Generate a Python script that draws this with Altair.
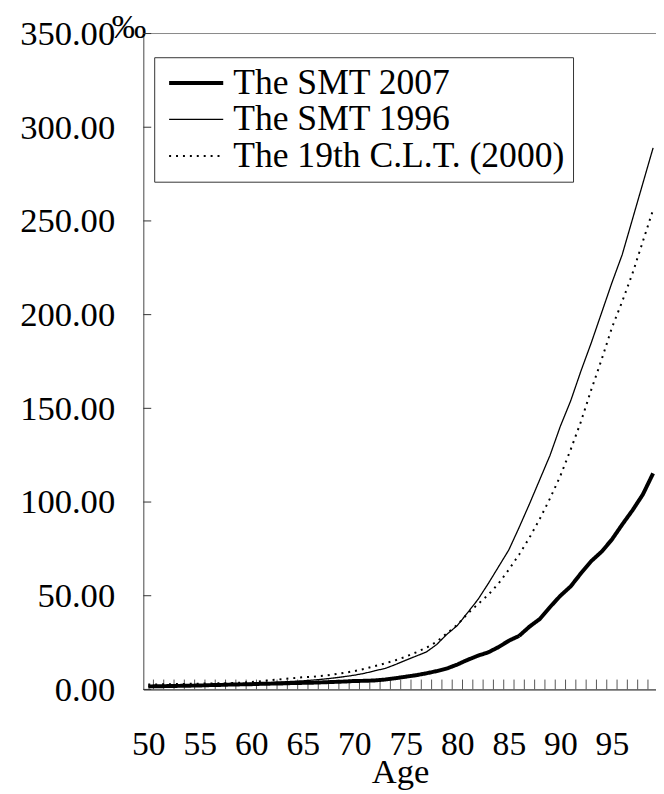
import altair as alt
import pandas as pd

ages = list(range(50, 100))
smt2007 = [1.6, 1.7, 1.8, 1.9, 2.0, 2.1, 2.3, 2.4, 2.6, 2.7,
           2.8, 3.0, 3.1, 3.2, 3.4, 3.5, 3.6, 3.8, 4.0, 4.2,
           4.5, 4.6, 4.8, 5.3, 6.0, 6.8, 7.6, 8.6, 9.8, 11.2,
           13.3, 15.8, 18.0, 19.8, 22.6, 26.0, 28.6, 33.5, 37.6, 44.0,
           50.0, 55.0, 62.0, 68.5, 73.5, 80.0, 88.0, 95.6, 104.0, 115.3]
smt1996 = [1.6, 1.7, 1.8, 1.9, 2.0, 2.2, 2.4, 2.6, 2.8, 3.0,
           3.2, 3.4, 3.7, 4.0, 4.3, 4.6, 5.0, 5.5, 6.1, 6.8,
           7.6, 8.6, 10.0, 11.2, 13.3, 15.6, 17.8, 20.0, 24.0, 29.5,
           34.1, 41.0, 48.0, 56.5, 65.5, 74.5, 86.5, 99.0, 112.0, 125.0,
           140.5, 154.0, 170.0, 185.0, 201.0, 217.0, 232.0, 251.0, 270.0, 289.0]
clt2000 = [2.6, 2.7, 2.8, 2.9, 3.0, 3.1, 3.2, 3.3, 3.4, 3.6,
           4.0, 4.4, 5.0, 5.5, 6.0, 6.5, 6.8, 7.3, 8.0, 8.8,
           9.8, 11.0, 12.5, 13.9, 15.6, 17.5, 19.8, 22.3, 25.5, 30.0,
           34.5, 40.5, 45.5, 50.5, 56.5, 64.0, 72.0, 81.0, 91.0, 102.0,
           114.0, 128.0, 143.0, 160.0, 176.0, 193.0, 207.0, 222.0, 239.0, 256.0]
series_names = ["The SMT 2007", "The SMT 1996", "The 19th C.L.T. (2000)"]
y_ticks = [0, 50, 100, 150, 200, 250, 300, 350]
x_labels = [50, 55, 60, 65, 70, 75, 80, 85, 90, 95]

rows = []
for name, vals in zip(series_names, [smt2007, smt1996, clt2000]):
    for a, v in zip(ages, vals):
        rows.append({"Age": a, "Rate": v, "Table": name})
df = pd.DataFrame(rows)

FONT = "Liberation Serif"
W, H = 519, 664

xscale = alt.Scale(domain=[49.52, 99.28], nice=False, zero=False)
yscale = alt.Scale(domain=[0, 350], nice=False)

xaxis = alt.Axis(values=x_labels, ticks=False, tickSize=0, grid=False,
                 labelFontSize=34, labelFont=FONT, labelPadding=66,
                 labelBaseline="alphabetic", labelColor="black",
                 domainColor="black", title="Age", titleFont=FONT,
                 titleFontSize=35, titleFontWeight="normal", titleColor="black",
                 titleY=94, titleX=260, titleBaseline="alphabetic",
                 titleAlign="center", labelOverlap=False, labelFlush=False)
yaxis = alt.Axis(values=y_ticks, format=".2f", ticks=False, tickSize=0, grid=False,
                 labelFontSize=35, labelFont=FONT, labelPadding=29,
                 labelColor="black", domainColor="#444", title="‰",
                 titleAngle=0, titleX=-15, titleY=4, titleAlign="center",
                 titleBaseline="alphabetic", titleFont=FONT, titleFontSize=35,
                 titleFontWeight="normal", titleColor="black",
                 labelFlush=False, labelOverlap=False)

lines = alt.Chart(df).mark_line(color="black", clip=True).encode(
    x=alt.X("Age:Q", scale=xscale, axis=xaxis),
    y=alt.Y("Rate:Q", scale=yscale, axis=yaxis),
    strokeWidth=alt.StrokeWidth("Table:N",
                                scale=alt.Scale(type="ordinal", domain=series_names,
                                                range=[4, 1.3, 2]),
                                legend=alt.Legend(title=None)),
    strokeDash=alt.StrokeDash("Table:N",
                              scale=alt.Scale(domain=series_names,
                                              range=[[1, 0], [1, 0], [2, 5]]),
                              legend=alt.Legend(title=None)),
)

xticks = alt.Chart(pd.DataFrame({"Age": ages[:-1]})).transform_calculate(
    tx="datum.Age + 0.5"
).mark_rule(color="#555", strokeWidth=1).encode(
    x=alt.X("tx:Q", scale=xscale, axis=xaxis),
    y=alt.value(H - 10),
    y2=alt.value(H),
)

yticks = alt.Chart(pd.DataFrame({"v": y_ticks})).mark_rule(color="#333", strokeWidth=1).encode(
    y=alt.Y("v:Q", scale=yscale, axis=yaxis),
    x=alt.value(0),
    x2=alt.value(8),
)

topline = alt.Chart(pd.DataFrame({"v": [max(y_ticks)]})).mark_rule(color="#888", strokeWidth=1).encode(
    y=alt.Y("v:Q", scale=yscale, axis=yaxis),
)

chart = alt.layer(topline, xticks, yticks, lines).properties(
    width=W, height=H,
    autosize=alt.AutoSizeParams(type="none"),
    padding={"left": 137, "top": 21, "right": 0, "bottom": 100},
).configure_view(stroke=None).configure_legend(
    orient="none", legendX=11, legendY=24,
    labelFont=FONT, labelFontSize=36, labelColor="black",
    strokeColor="#333", fillColor="white", padding=8,
    symbolType="stroke", symbolSize=3000, symbolStrokeColor="black",
    symbolOffset=5, clipHeight=36,
    labelOffset=8, rowPadding=1, labelLimit=0,
)

chart.save("out.html", embed_options={"renderer": "svg", "actions": False})
